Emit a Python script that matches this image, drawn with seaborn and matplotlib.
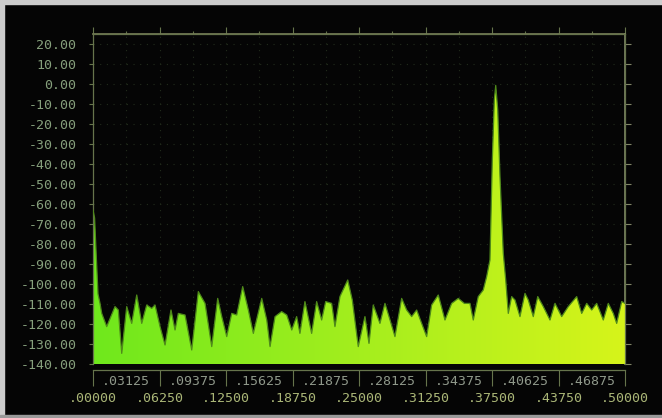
import numpy as np
import pandas as pd
import matplotlib
matplotlib.use("Agg")
import matplotlib.pyplot as plt
import seaborn as sns
from matplotlib.colors import LinearSegmentedColormap
from matplotlib.patches import Rectangle
from matplotlib.ticker import NullFormatter

# spectrum (normalised frequency, dB)
freq_low = [0.0, 0.0015, 0.003, 0.0047, 0.0066, 0.0082, 0.0129, 0.0207, 0.0238, 0.0270,
            0.0317, 0.0364, 0.0411, 0.0458, 0.0505, 0.0552, 0.0583, 0.0630, 0.0677, 0.0733,
            0.0771, 0.0802, 0.0865, 0.0928, 0.0990, 0.1053, 0.1116, 0.1172, 0.1210, 0.1257,
            0.1304, 0.1351, 0.1407, 0.1460, 0.1507, 0.1586, 0.1633, 0.1664, 0.1711]
db_low = [-63, -67, -85, -105, -109.7, -114.7, -121.3, -111.3, -113, -134.7,
          -111.3, -119.7, -105.5, -119.7, -110.5, -112.2, -110.5, -121.3, -130.5, -113,
          -123, -114.7, -115.5, -133, -103.8, -109.7, -131.3, -107.2, -116.3, -126.3,
          -114.7, -115.5, -101.3, -113, -124.7, -107.2, -118, -131.3, -116.3]

freq_mid = [0.1773, 0.1821, 0.1868, 0.1914, 0.1945, 0.1992, 0.2055, 0.2102, 0.2149, 0.2187,
            0.2243, 0.2274, 0.2321, 0.2394, 0.2437, 0.2493, 0.2556, 0.2594, 0.2634, 0.2697,
            0.2744, 0.2782, 0.2838, 0.2901, 0.2948, 0.2995, 0.3042, 0.3089, 0.3136, 0.3183,
            0.3245, 0.3308, 0.3371, 0.3433, 0.3490]
db_mid = [-113.8, -115.5, -123, -116.3, -124.7, -108.8, -124.7, -108.8, -118, -108.8,
          -109.7, -121.3, -106.3, -98, -108, -131.3, -116.3, -129.7, -110.5, -119.7,
          -109.7, -116.3, -126.3, -107.2, -113, -116.3, -113, -119.7, -126.3, -110.5,
          -105.5, -118, -109.7, -107.2, -109.7]

freq_high = [0.3543, 0.3574, 0.3621, 0.3668, 0.3700, 0.3731, 0.3753, 0.3772, 0.3785, 0.3804,
             0.3825, 0.3856, 0.3879, 0.3903, 0.3935, 0.3966, 0.4013, 0.4060, 0.4091, 0.4138,
             0.4180, 0.4232, 0.4295, 0.4342, 0.4405, 0.4467, 0.4546, 0.4593, 0.4640, 0.4687,
             0.4734, 0.4796, 0.4843, 0.4890, 0.4922, 0.4969, 0.5000]
db_high = [-109.7, -118, -106.3, -103, -96.3, -88, -38, -8, -0.7, -13,
           -46.3, -84.7, -98, -114.7, -106.3, -108, -116.3, -104.7, -108, -116.3,
           -106.3, -111.3, -118, -109.7, -116.3, -111.3, -106.3, -114.7, -109.7, -113,
           -109.7, -118, -109.7, -114.7, -119.7, -108.8, -109.7]

y_ticks = [20, 10, 0, -10, -20, -30, -40, -50, -60, -70, -80, -90, -100, -110, -120, -130, -140]
y_labels = ["20.00", "10.00", "0.00", "-10.00", "-20.00", "-30.00", "-40.00", "-50.00",
            "-60.00", "-70.00", "-80.00", "-90.00", "-100.00", "-110.00", "-120.00",
            "-130.00", "-140.00"]
x_major = [0.0, 0.0625, 0.125, 0.1875, 0.25, 0.3125, 0.375, 0.4375, 0.5]
x_major_labels = [".00000", ".06250", ".12500", ".18750", ".25000", ".31250", ".37500",
                  ".43750", ".50000"]
x_minor = [0.03125, 0.09375, 0.15625, 0.21875, 0.28125, 0.34375, 0.40625, 0.46875]
x_minor_labels = [".03125", ".09375", ".15625", ".21875", ".28125", ".34375", ".40625",
                  ".46875"]

df = pd.DataFrame({"freq": freq_low + freq_mid + freq_high,
                   "db": db_low + db_mid + db_high})

bg = "#050505"
frame_c = "#66744c"
sns.set_theme(style="dark", rc={"axes.facecolor": bg, "figure.facecolor": bg})
plt.rcParams["font.family"] = ["DejaVu Sans Mono", "DejaVu Sans"]

fig = plt.figure(figsize=(6.62, 4.18), dpi=100)
ax = fig.add_axes([93 / 662, 1 - 364 / 418, (625 - 93) / 662, (364 - 34) / 418])

# filled trace with a green -> yellow sweep across the band
poly = ax.fill_between(df["freq"], df["db"], -140, facecolor="none", edgecolor="none")
cmap = LinearSegmentedColormap.from_list("scope", ["#6fe81c", "#a4ee1e", "#d6f41a"])
grad = np.linspace(0, 1, 256).reshape(1, -1)
im = ax.imshow(grad, cmap=cmap, aspect="auto", extent=[0, 0.5, -140, 25],
               origin="lower", zorder=2)
im.set_clip_path(poly.get_paths()[0], transform=ax.transData)
sns.lineplot(data=df, x="freq", y="db", ax=ax, color="#4f8a1a", lw=0.9, zorder=3)

ax.set_xlim(0, 0.5)
ax.set_ylim(-140, 25)
ax.set_xlabel("")
ax.set_ylabel("")

ax.set_yticks(y_ticks, y_labels)
ax.tick_params(axis="y", which="major", left=True, direction="out", length=3, width=0.8,
               color=frame_c, pad=9, labelsize=9.5, labelcolor="#86a07c")

ax.set_xticks(x_major, x_major_labels)
ax.set_xticks(x_minor, x_minor_labels, minor=True)
ax.tick_params(axis="x", which="major", bottom=True, direction="out", length=11.5, width=0.8,
               color=frame_c, pad=4, labelsize=9.5, labelcolor="#aab677")
ax.tick_params(axis="x", which="minor", bottom=True, length=0, pad=3.5,
               labelsize=9.5, labelcolor="#8f988a")

for side, sp in ax.spines.items():
    sp.set_visible(True)
    sp.set_color(frame_c)
    sp.set_linewidth(0.9)
ax.spines["bottom"].set_position(("outward", 4.5))

ax.grid(True, which="both", axis="x", color="#222c1c", linestyle=(0, (1, 5)), lw=0.8)
ax.grid(True, which="major", axis="y", color="#222c1c", linestyle=(0, (1, 5)), lw=0.8)
ax.set_axisbelow(True)

top = ax.secondary_xaxis("top")
top.set_xticks(x_major)
top.set_xticks(x_minor, minor=True)
top.xaxis.set_major_formatter(NullFormatter())
top.xaxis.set_minor_formatter(NullFormatter())
top.tick_params(which="major", direction="out", length=5, width=0.8, color=frame_c)
top.tick_params(which="minor", direction="out", length=2, width=0.8, color=frame_c)
top.spines["top"].set_color("#767b56")

right = ax.secondary_yaxis("right")
right.set_yticks(y_ticks)
right.yaxis.set_major_formatter(NullFormatter())
right.tick_params(direction="out", length=4, width=0.8, color="#7f8466")
right.spines["right"].set_color("#7f8466")

# bezel edge of the photographed screen
fig.add_artist(Rectangle((0, 1 - 4 / 418), 1, 4 / 418, transform=fig.transFigure,
                         color="#cdcdcd", zorder=10))
fig.add_artist(Rectangle((0, 0), 4 / 662, 1, transform=fig.transFigure,
                         color="#cdcdcd", zorder=10))
fig.add_artist(Rectangle((0, 0), 1, 3 / 418, transform=fig.transFigure,
                         color="#9a9a9a", zorder=10))

fig.savefig("out.png", dpi=100, facecolor=bg)
